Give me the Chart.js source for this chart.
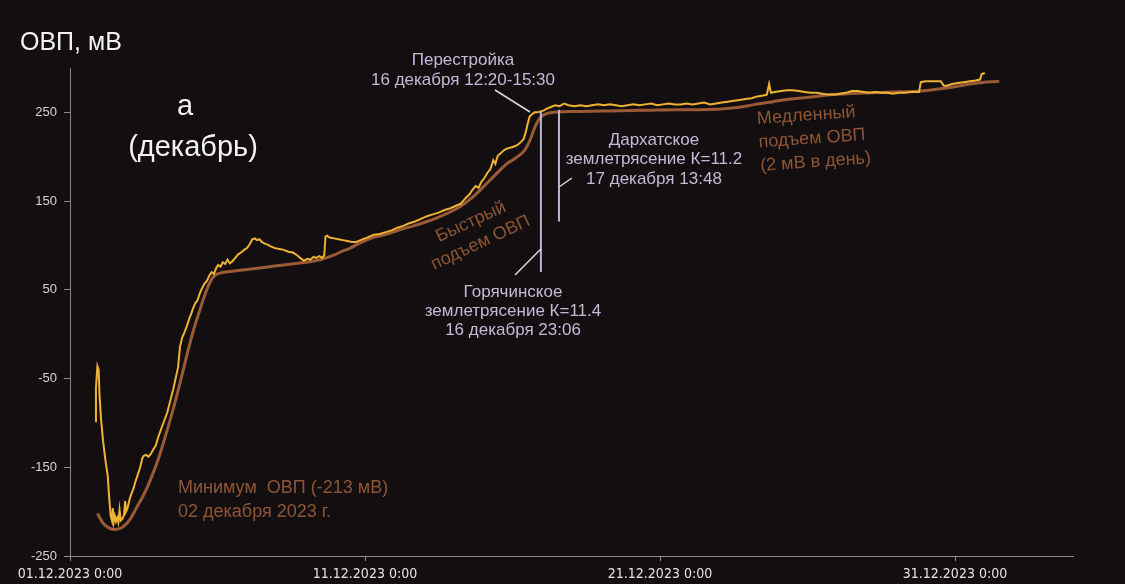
<!DOCTYPE html>
<html lang="ru">
<head>
<meta charset="utf-8">
<title>ОВП, декабрь 2023</title>
<script src="https://cdn.jsdelivr.net/npm/chart.js@4.4.1/dist/chart.umd.min.js"></script>
<style>
  html, body { margin: 0; padding: 0; background: #130f11; }
  #wrap { width: 1125px; height: 584px; }
</style>
</head>
<body>
<div id="wrap"><canvas id="orp" width="1125" height="584"></canvas></div>
<script>
// Time is counted in days from 01.12.2023 0:00
const xTickValues = [0, 10, 20, 30];
const xTickLabels = ['01.12.2023 0:00', '11.12.2023 0:00', '21.12.2023 0:00', '31.12.2023 0:00'];
const yTickValues = [-250, -150, -50, 50, 150, 250];

// Measured ORP, mV
const measuredDays = [
  0.85, 0.88, 0.93, 0.97, 1.00, 1.05, 1.12, 1.20, 1.28, 1.33, 1.38, 1.42, 1.45, 1.48, 1.52, 1.56, 1.60, 1.64, 1.68, 1.72,
  1.78, 1.83, 1.87, 1.90, 1.95, 2.02, 2.08, 2.15, 2.22, 2.30, 2.38, 2.45, 2.50, 2.58, 2.66, 2.74, 2.82, 2.90, 3.00, 3.10,
  3.20, 3.30, 3.40, 3.50, 3.58, 3.66, 3.73, 3.80, 3.88, 3.96, 4.05, 4.12, 4.18, 4.25, 4.32, 4.40, 4.48, 4.56, 4.64, 4.72,
  4.80, 4.88, 4.95, 5.02, 5.10, 5.18, 5.26, 5.34, 5.42, 5.50, 5.60, 5.70, 5.80, 5.90, 6.00, 6.10, 6.18, 6.26, 6.34, 6.42,
  6.50, 6.60, 6.70, 6.80, 6.95, 7.10, 7.25, 7.40, 7.55, 7.70, 7.80, 7.92, 8.05, 8.15, 8.25, 8.35, 8.45, 8.55, 8.62, 8.66,
  8.72, 8.80, 8.95, 9.10, 9.25, 9.40, 9.55, 9.70, 9.85, 10.00, 10.15, 10.30, 10.50, 10.70, 10.90, 11.10, 11.30, 11.50, 11.70, 11.90,
  12.10, 12.30, 12.50, 12.70, 12.90, 13.10, 13.25, 13.40, 13.55, 13.65, 13.75, 13.85, 13.95, 14.05, 14.15, 14.25, 14.35, 14.42, 14.50, 14.60,
  14.70, 14.80, 14.90, 15.00, 15.10, 15.20, 15.30, 15.38, 15.45, 15.52, 15.58, 15.66, 15.75, 15.85, 15.95, 16.05, 16.15, 16.30, 16.45, 16.60,
  16.75, 16.90, 17.10, 17.30, 17.50, 17.70, 17.90, 18.10, 18.30, 18.50, 18.70, 18.90, 19.10, 19.30, 19.50, 19.70, 19.90, 20.10, 20.30, 20.50,
  20.70, 20.90, 21.10, 21.30, 21.50, 21.70, 21.90, 22.10, 22.30, 22.50, 22.70, 22.90, 23.10, 23.30, 23.50, 23.62, 23.70, 23.76, 23.90, 24.10,
  24.30, 24.50, 24.70, 24.90, 25.10, 25.30, 25.50, 25.70, 25.90, 26.10, 26.30, 26.50, 26.70, 26.90, 27.10, 27.30, 27.50, 27.70, 27.90, 28.10,
  28.30, 28.55, 28.78, 28.84, 29.00, 29.20, 29.40, 29.52, 29.62, 29.72, 29.90, 30.10, 30.30, 30.50, 30.70, 30.85, 30.90, 30.98, 31.00
];
const measuredMv = [
  -98, -60, -36, -40, -68, -95, -120, -142, -160, -185, -205, -210, -196, -212, -205, -211, -207, -212, -198, -210,
  -208, -204, -188, -200, -196, -186, -180, -174, -166, -158, -150, -140, -137, -136, -138, -135, -130, -126, -115, -106,
  -97, -88, -75, -62, -50, -38, -14, -4, 2, 9, 18, 24, 30, 35, 38, 46, 52, 57, 60, 66,
  70, 68, 74, 78, 76, 81, 79, 84, 80, 82, 86, 90, 92, 95, 97, 102, 107, 108, 106, 107,
  104, 102, 101, 99, 97, 96, 95, 93, 92, 89, 86, 83, 85, 84, 87, 86, 88, 86, 89, 110,
  111, 109, 108, 107, 106, 105, 104, 104, 106, 108, 110, 112, 113, 115, 117, 120, 122, 125, 127, 130,
  133, 135, 137, 140, 142, 145, 147, 153, 158, 163, 167, 165, 172, 176, 182, 186, 196, 192, 201, 204,
  207, 209, 210, 211, 212, 214, 217, 220, 228, 238, 245, 248, 250, 250, 251, 252, 254, 256, 258, 257,
  260, 258, 257, 258, 257, 258, 259, 258, 259, 258, 257, 258, 259, 258, 259, 260, 258, 259, 260, 259,
  259, 260, 259, 260, 261, 259, 260, 261, 262, 263, 264, 265, 266, 268, 269, 270, 282, 272, 273, 274,
  275, 275, 274, 273, 272, 272, 271, 270, 270, 271, 272, 274, 274, 273, 272, 273, 272, 272, 271, 272,
  272, 273, 273, 284, 285, 285, 285, 285, 280, 280, 282, 283, 284, 285, 286, 287, 293, 294, 293
];

// Smoothed trend, mV
const trendDays = [
  0.93, 1.10, 1.30, 1.50, 1.70, 1.90, 2.05, 2.25, 2.45, 2.60, 2.80, 3.00, 3.17, 3.35, 3.55, 3.73, 3.90, 4.05, 4.20, 4.41,
  4.60, 4.80, 4.95, 5.10, 5.50, 6.00, 6.50, 7.00, 7.50, 8.00, 8.50, 8.93, 9.20, 9.50, 9.84, 10.20, 10.52, 10.86, 11.20, 11.65,
  12.10, 12.50, 12.90, 13.23, 13.60, 13.95, 14.25, 14.55, 14.80, 15.04, 15.25, 15.38, 15.50, 15.61, 15.70, 15.78, 15.88, 16.00, 16.20, 16.40,
  17.00, 18.00, 19.00, 19.68, 20.50, 21.30, 21.94, 22.30, 22.62, 23.00, 23.30, 23.64, 24.00, 24.43, 24.88, 25.40, 25.90, 26.70, 27.49, 28.20,
  28.84, 29.50, 30.09, 30.50, 30.88, 31.20, 31.50
];
const trendMv = [
  -202, -212, -218, -220, -219, -214, -208, -196, -184, -174, -158, -140, -122, -102, -78, -55, -32, -12, 6, 28,
  47, 62, 67, 69, 71, 73, 75, 77, 79, 81, 84, 89, 93, 97, 103, 108, 111, 114, 118, 122,
  127, 132, 138, 144, 153, 164, 174, 184, 192, 197, 202, 206, 212, 220, 228, 235, 241, 246, 249, 250,
  251, 251.5, 252, 252.5, 253, 253, 253.5, 254.5, 255.5, 257.5, 259.5, 261, 263, 265, 266.5, 268.5, 270, 271.5, 272.5, 273.2,
  274, 276.5, 279.5, 282, 283.5, 284.5, 285
];

// Earthquakes: 16.12 23:06 (K=11.4) and 17.12 13:48 (K=11.2)
const quakeDays = [15 + 23.1 / 24, 16 + 13.8 / 24];
const quakeTopMv = [251, 253];
const quakeBottomMv = [70, 127];

const BG = '#130f11';
const YELLOW = '#f0b232';
const BROWN = '#9a5a36';
const BROWN_TEXT = '#8e5535';
const LILAC = '#bfb2d6';
const LILAC_TEXT = '#c4b9d6';
const AXIS = '#8a8a8a';

const pairs = (xs, ys) => xs.map((x, i) => ({ x, y: ys[i] }));

const quakeSets = quakeDays.map((d, i) => ({
  data: [{ x: d, y: quakeTopMv[i] }, { x: d, y: quakeBottomMv[i] }],
  borderColor: LILAC,
  borderWidth: 2,
  pointRadius: 0,
  tension: 0,
  order: 0
}));

const backdrop = {
  id: 'backdrop',
  beforeDraw(chart) {
    const { ctx, width, height } = chart;
    ctx.save();
    ctx.fillStyle = BG;
    ctx.fillRect(0, 0, width, height);
    ctx.restore();
  }
};

function lines(ctx, rows, x, y, step) {
  rows.forEach((t, i) => ctx.fillText(t, x, y + i * step));
}

const notes = {
  id: 'notes',
  afterDatasetsDraw(chart) {
    const { ctx } = chart;
    const xs = chart.scales.x, ys = chart.scales.y;
    ctx.save();
    ctx.textBaseline = 'middle';

    // axis caption and panel label
    ctx.fillStyle = '#f2f2f2';
    ctx.font = '25px "Liberation Sans", Arial, sans-serif';
    ctx.textAlign = 'left';
    ctx.fillText('ОВП, мВ', 20, 43);
    ctx.font = '29px "Liberation Sans", Arial, sans-serif';
    ctx.textAlign = 'center';
    ctx.fillText('а', 185, 107);
    ctx.fillText('(декабрь)', 193, 148);

    // leader lines
    ctx.strokeStyle = '#d9d6e2';
    ctx.lineWidth = 1.5;
    const q1 = xs.getPixelForValue(quakeDays[0]);
    const q2 = xs.getPixelForValue(quakeDays[1]);
    ctx.beginPath();
    ctx.moveTo(495, 90); ctx.lineTo(530, 112);
    ctx.moveTo(515, 275); ctx.lineTo(q1, ys.getPixelForValue(96));
    ctx.moveTo(q2 + 13, 178); ctx.lineTo(q2, 187);
    ctx.stroke();

    // event captions
    ctx.fillStyle = LILAC_TEXT;
    ctx.font = '17px "Liberation Sans", Arial, sans-serif';
    ctx.textAlign = 'center';
    lines(ctx, ['Перестройка', '16 декабря 12:20-15:30'], 463, 60, 20);
    lines(ctx, ['Дархатское', 'землетрясение К=11.2', '17 декабря 13:48'], q2 + 95, 140, 19.5);
    lines(ctx, ['Горячинское', 'землетрясение К=11.4', '16 декабря 23:06'], 513, 292, 19.3);

    // trend captions
    ctx.fillStyle = BROWN_TEXT;
    ctx.font = '18px "Liberation Sans", Arial, sans-serif';
    ctx.textAlign = 'left';
    lines(ctx, ['Минимум  ОВП (-213 мВ)', '02 декабря 2023 г.'], 178, 488, 24);

    ctx.save();
    ctx.translate(471, 222);
    ctx.rotate(-25 * Math.PI / 180);
    ctx.textAlign = 'center';
    lines(ctx, ['Быстрый', 'подъем ОВП'], 0, 0, 23);
    ctx.restore();

    ctx.save();
    ctx.translate(757, 119);
    ctx.rotate(-4 * Math.PI / 180);
    ctx.textAlign = 'left';
    lines(ctx, ['Медленный', 'подъем ОВП', '(2 мВ в день)'], 0, 0, 23.5);
    ctx.restore();

    ctx.restore();
  }
};

new Chart(document.getElementById('orp'), {
  type: 'line',
  data: {
    datasets: [
      {
        data: pairs(trendDays, trendMv),
        borderColor: BROWN,
        borderWidth: 3,
        pointRadius: 0,
        tension: 0.4,
        cubicInterpolationMode: 'monotone',
        order: 2
      },
      {
        data: pairs(measuredDays, measuredMv),
        borderColor: YELLOW,
        borderWidth: 2,
        pointRadius: 0,
        tension: 0,
        order: 1
      },
      ...quakeSets
    ]
  },
  options: {
    responsive: false,
    animation: false,
    devicePixelRatio: 1,
    parsing: true,
    layout: { padding: { top: 68, right: 52, left: 0, bottom: 0 } },
    plugins: { legend: { display: false }, tooltip: { enabled: false }, title: { display: false } },
    scales: {
      x: {
        type: 'linear',
        min: 0,
        max: 34,
        afterBuildTicks(s) { s.ticks = xTickValues.map(v => ({ value: v })); },
        afterFit(s) { s.height = 28; },
        ticks: {
          autoSkip: false,
          maxRotation: 0,
          padding: 5,
          color: '#e4e4e4',
          font: { family: '"Liberation Sans Narrow", "DejaVu Sans Condensed", sans-serif', size: 14 },
          callback: v => xTickLabels[xTickValues.indexOf(v)] ?? ''
        },
        grid: { drawOnChartArea: false, drawTicks: true, tickLength: 5, color: AXIS },
        border: { display: true, color: AXIS, width: 1 }
      },
      y: {
        type: 'linear',
        min: -250,
        max: 300,
        afterBuildTicks(s) { s.ticks = yTickValues.map(v => ({ value: v })); },
        afterFit(s) { s.width = 70; },
        ticks: {
          padding: 7,
          color: '#d4d4d4',
          font: { family: '"Liberation Sans", Arial, sans-serif', size: 13 }
        },
        grid: { drawOnChartArea: false, drawTicks: true, tickLength: 6, color: AXIS },
        border: { display: true, color: AXIS, width: 1 }
      }
    }
  },
  plugins: [backdrop, notes]
});
</script>
</body>
</html>
